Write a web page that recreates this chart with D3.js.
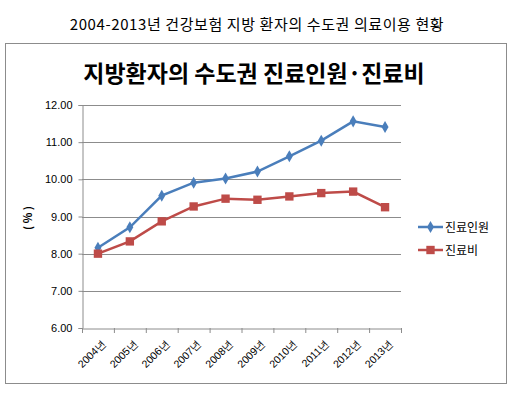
<!DOCTYPE html>
<html>
<head>
<meta charset="utf-8">
<script src="https://cdn.jsdelivr.net/npm/d3@7"></script>
<style>
  body { margin: 0; background: #fff; }
  svg { display: block; font-family: "Noto Sans CJK KR", "Liberation Sans", sans-serif; }
</style>
</head>
<body>
<svg id="chart" width="514" height="394"></svg>
<script>
// data
const years = ["2004년", "2005년", "2006년", "2007년", "2008년", "2009년", "2010년", "2011년", "2012년", "2013년"];
const patients = [8.16, 8.71, 9.56, 9.91, 10.02, 10.21, 10.62, 11.04, 11.56, 11.41];
const costs = [8.00, 8.33, 8.87, 9.27, 9.48, 9.45, 9.54, 9.63, 9.67, 9.25];
const yTicks = [6, 7, 8, 9, 10, 11, 12];
const seriesNames = ["진료인원", "진료비"];

const svg = d3.select("#chart");
const margin = { top: 105, right: 113, bottom: 66, left: 82 };
const W = 514, H = 394;

// page title
svg.append("text")
    .attr("x", 257).attr("y", 30)
    .attr("text-anchor", "middle")
    .style("font-size", "15px")
    .style("letter-spacing", "0.6px")
    .attr("fill", "#000")
    .text("2004-2013년 건강보험 지방 환자의 수도권 의료이용 현황");

// chart frame
svg.append("rect")
    .attr("x", 5.5).attr("y", 43.5)
    .attr("width", 501).attr("height", 340)
    .attr("fill", "#fff").attr("stroke", "#8c8c8c");

svg.append("text")
    .attr("x", 254).attr("y", 82)
    .attr("text-anchor", "middle")
    .style("font-size", "23px").style("font-weight", "bold")
    .attr("fill", "#000")
    .text("지방환자의 수도권 진료인원·진료비");

const x = d3.scaleBand().domain(years).range([margin.left, W - margin.right]);
const y = d3.scaleLinear().domain([6, 12]).range([H - margin.bottom, margin.top]);

// gridlines
svg.append("g")
    .selectAll("line")
    .data(yTicks.slice(1))
    .join("line")
    .attr("x1", margin.left).attr("x2", W - margin.right)
    .attr("y1", d => Math.round(y(d)) + 0.5).attr("y2", d => Math.round(y(d)) + 0.5)
    .attr("stroke", "#8c8c8c");

// y axis
const yAxis = svg.append("g")
    .attr("transform", `translate(${margin.left + 0.5},0)`)
    .call(d3.axisLeft(y).tickValues(yTicks).tickFormat(d3.format(".2f")).tickSize(4).tickPadding(6));
yAxis.select(".domain").attr("stroke", "#8c8c8c");
yAxis.selectAll(".tick line").attr("stroke", "#8c8c8c");
yAxis.selectAll("text").style("font-size", "11px").style("font-family", "Liberation Sans, sans-serif").attr("fill", "#000");

// x axis
const xAxis = svg.append("g")
    .attr("transform", `translate(0,${Math.round(H - margin.bottom) + 0.5})`)
    .call(d3.axisBottom(x).tickSize(0));
xAxis.select(".domain").attr("stroke", "#8c8c8c");
xAxis.selectAll(".tick text")
    .style("font-size", "10.5px")
    .attr("fill", "#000")
    .attr("text-anchor", "end")
    .attr("x", 0).attr("y", 0)
    .attr("dy", "0.35em")
    .attr("transform", "translate(6,13) rotate(-45)");
svg.append("g")
    .selectAll("line")
    .data(years.concat(["end"]))
    .join("line")
    .attr("x1", (d, i) => margin.left + i * x.step() + 0.5)
    .attr("x2", (d, i) => margin.left + i * x.step() + 0.5)
    .attr("y1", H - margin.bottom).attr("y2", H - margin.bottom + 5)
    .attr("stroke", "#8c8c8c");

// y label
svg.append("text")
    .attr("transform", "translate(32,218) rotate(-90)")
    .attr("text-anchor", "middle")
    .style("font-size", "11px").style("font-weight", "bold")
    .text("( % )");

const cx = d => x(d) + x.bandwidth() / 2;
const line = d3.line().x(d => cx(d.year)).y(d => y(d.v));

const series = [
    { name: seriesNames[0], values: patients, color: "#4a7ebb", symbol: d3.symbolDiamond, size: 42 },
    { name: seriesNames[1], values: costs, color: "#be4b48", symbol: d3.symbolSquare, size: 70 }
];

series.forEach(s => {
    const pts = years.map((yr, i) => ({ year: yr, v: s.values[i] }));
    svg.append("path")
        .datum(pts)
        .attr("d", line)
        .attr("fill", "none")
        .attr("stroke", s.color)
        .attr("stroke-width", 2.5);
    svg.append("g")
        .selectAll("path")
        .data(pts)
        .join("path")
        .attr("transform", d => `translate(${cx(d.year)},${y(d.v)})`)
        .attr("d", d3.symbol().type(s.symbol).size(s.size))
        .attr("fill", s.color);
});

// legend
series.forEach((s, i) => {
    const ly = 227 + i * 23;
    const g = svg.append("g").attr("transform", `translate(418,${ly})`);
    g.append("line").attr("x1", 0).attr("x2", 25).attr("stroke", s.color).attr("stroke-width", 2.5);
    g.append("path")
        .attr("transform", "translate(12.5,0)")
        .attr("d", d3.symbol().type(s.symbol).size(s.size))
        .attr("fill", s.color);
    g.append("text")
        .attr("x", 27).attr("y", 4.5)
        .style("font-size", "12px")
        .text(s.name);
});
</script>
</body>
</html>
